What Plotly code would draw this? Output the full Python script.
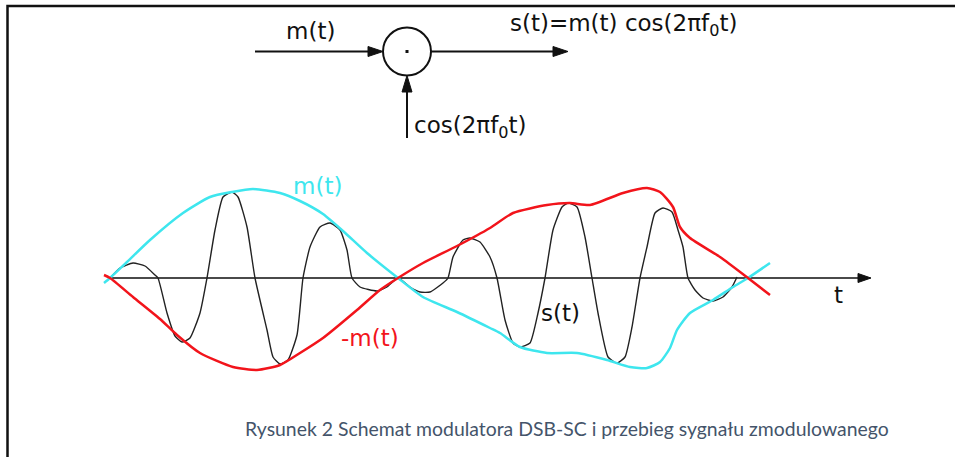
import plotly.graph_objects as go

# ---------------- waveform data (t in drawing units, amplitude positive up) ----------------
m_t = [104, 110, 127, 150, 183, 210, 232, 253, 280, 300, 323, 343, 367, 398, 423, 457, 490, 500,
       520, 547, 577, 607, 630, 647, 660, 670, 677, 690, 713, 733, 748, 770]
m_amp = [-5, 0, 16, 38, 65, 81, 86, 89, 85, 77, 64, 47, 25, 0, -19, -34, -50, -55,
         -69, -75, -75, -82, -89, -90, -84, -70, -52, -35, -22, -9, 0, 15]

neg_t = [104, 110, 133, 160, 177, 200, 233, 257, 280, 300, 323, 357, 380, 398, 423, 457, 490, 513,
         547, 570, 590, 623, 647, 660, 673, 680, 690, 720, 748, 770]
neg_amp = [3, 0, -19, -41, -57, -75, -89, -92, -87, -75, -60, -32, -12, 0, 15, 32, 50, 65,
           73, 75, 73, 85, 90, 86, 71, 51, 40, 21, 0, -17]

s_t = [110, 120, 133, 145, 155, 158, 167, 175, 182, 190, 200, 207, 215, 223, 232, 238, 247, 255,
       267, 273, 280, 288, 297, 303, 310, 320, 330, 340, 347, 352, 360, 377, 387, 398, 410, 420,
       430, 443, 448, 453, 463, 470, 480, 490, 497, 505, 513, 520, 530, 538, 545, 553, 562, 568,
       577, 585, 592, 598, 608, 617, 625, 632, 640, 647, 655, 663, 672, 678, 683, 688, 695, 703,
       713, 723, 732, 737]
s_amp = [0, 10, 15, 12, 3, 0, -35, -58, -64, -60, -35, 0, 48, 81, 86, 81, 51, 0,
         -52, -79, -86, -82, -57, 0, 31, 51, 55, 48, 28, 0, -9, -13, -9, 0, -9, -14,
         -14, -5, 0, 21, 38, 40, 36, 21, 0, -42, -65, -69, -65, -35, 0, 48, 71, 75,
         71, 41, 0, -35, -79, -85, -79, -49, 0, 31, 65, 70, 66, 48, 31, 0, -12, -20,
         -23, -19, -9, 1]

axis_t = [108, 862]
axis_amp = [0, 0]

# ---------------- diagram geometry (pixel-like layout units, y down) ----------------
border_x = [7.5, 7.5, 955]
border_y = [457, 6, 6]

in_arrow_x = [255, 370]
out_arrow_x = [431, 555]
arrow_y = 51.5
vert_arrow_y = [138, 90]
mult_cx, mult_cy, mult_r = 407, 51.5, 24

labels = ["m(t)", "s(t)=m(t) cos(2πf<sub>0</sub>t)", "cos(2πf<sub>0</sub>t)"]
label_x = [310, 623, 470]
label_y = [31, 25, 127]

wave_labels = ["m(t)", "-m(t)", "s(t)", "t"]
wave_label_x = [317, 370, 560, 838]
wave_label_amp = [92, -60, -35, -17]
wave_label_col = ["#3ee6ee", "#f2141b", "#111111", "#111111"]

caption = "Rysunek 2 Schemat modulatora DSB-SC i przebieg sygnału zmodulowanego"

CYAN = "#3ee6ee"
RED = "#f2141b"

fig = go.Figure()

# axis line
fig.add_trace(go.Scatter(x=axis_t, y=axis_amp, yaxis="y2", mode="lines",
                         line=dict(color="#4a4a4a", width=2), hoverinfo="skip"))
# modulated signal
fig.add_trace(go.Scatter(x=s_t, y=s_amp, yaxis="y2", mode="lines",
                         line=dict(color="#222222", width=1.4, shape="spline", smoothing=0.5),
                         hoverinfo="skip"))
# m(t)
fig.add_trace(go.Scatter(x=m_t, y=m_amp, yaxis="y2", mode="lines",
                         line=dict(color=CYAN, width=2.5, shape="spline", smoothing=0.6),
                         hoverinfo="skip"))
# -m(t)
fig.add_trace(go.Scatter(x=neg_t, y=neg_amp, yaxis="y2", mode="lines",
                         line=dict(color=RED, width=2.5, shape="spline", smoothing=0.6),
                         hoverinfo="skip"))

shapes = []
# border
shapes.append(dict(type="path", xref="x", yref="y",
                   path=f"M {border_x[0]},{border_y[0]} L {border_x[1]},{border_y[1]} L {border_x[2]},{border_y[2]}",
                   line=dict(color="#111111", width=2.5)))
# t-axis arrowhead
shapes.append(dict(type="path", xref="x", yref="y2",
                   path="M 871,0 L 858,4.5 L 858,-4.5 Z",
                   fillcolor="#111111", line=dict(color="#111111", width=1)))
# input arrow
shapes.append(dict(type="line", xref="x", yref="y", x0=in_arrow_x[0], x1=in_arrow_x[1],
                   y0=arrow_y, y1=arrow_y, line=dict(color="#111111", width=2)))
shapes.append(dict(type="path", xref="x", yref="y",
                   path=f"M {mult_cx - mult_r},{arrow_y} L {in_arrow_x[1] - 2},{arrow_y - 5} L {in_arrow_x[1] - 2},{arrow_y + 5} Z",
                   fillcolor="#111111", line=dict(color="#111111", width=1)))
# output arrow
shapes.append(dict(type="line", xref="x", yref="y", x0=out_arrow_x[0], x1=out_arrow_x[1],
                   y0=arrow_y, y1=arrow_y, line=dict(color="#111111", width=2)))
shapes.append(dict(type="path", xref="x", yref="y",
                   path=f"M 568,{arrow_y} L {out_arrow_x[1] - 2},{arrow_y - 5} L {out_arrow_x[1] - 2},{arrow_y + 5} Z",
                   fillcolor="#111111", line=dict(color="#111111", width=1)))
# vertical arrow
shapes.append(dict(type="line", xref="x", yref="y", x0=mult_cx, x1=mult_cx,
                   y0=vert_arrow_y[0], y1=vert_arrow_y[1], line=dict(color="#111111", width=2)))
shapes.append(dict(type="path", xref="x", yref="y",
                   path=f"M {mult_cx},{mult_cy + mult_r} L {mult_cx - 5},{vert_arrow_y[1] + 2} L {mult_cx + 5},{vert_arrow_y[1] + 2} Z",
                   fillcolor="#111111", line=dict(color="#111111", width=1)))
# multiplier circle and dot
shapes.append(dict(type="circle", xref="x", yref="y",
                   x0=mult_cx - mult_r, x1=mult_cx + mult_r, y0=mult_cy - mult_r, y1=mult_cy + mult_r,
                   line=dict(color="#111111", width=2)))
shapes.append(dict(type="rect", xref="x", yref="y",
                   x0=mult_cx - 1.5, x1=mult_cx + 1.5, y0=mult_cy - 1.5, y1=mult_cy + 1.5,
                   fillcolor="#111111", line=dict(width=0)))

annotations = []
for txt, x, y in zip(labels, label_x, label_y):
    annotations.append(dict(text=txt, x=x, y=y, xref="x", yref="y", showarrow=False,
                            xanchor="center", yanchor="middle",
                            font=dict(family="DejaVu Sans", size=23, color="#111111")))
for txt, x, a, c in zip(wave_labels, wave_label_x, wave_label_amp, wave_label_col):
    annotations.append(dict(text=txt, x=x, y=a, xref="x", yref="y2", showarrow=False,
                            xanchor="center", yanchor="middle",
                            font=dict(family="DejaVu Sans", size=23, color=c)))
annotations.append(dict(text=caption, x=567, y=428, xref="x", yref="y", showarrow=False,
                        xanchor="center", yanchor="middle",
                        font=dict(family="Lato", size=19.4, color="#44546a")))

fig.update_layout(
    width=955, height=457,
    margin=dict(l=0, r=0, t=0, b=0),
    paper_bgcolor="white", plot_bgcolor="white",
    showlegend=False,
    xaxis=dict(range=[0, 955], visible=False, fixedrange=True),
    yaxis=dict(range=[457, 0], visible=False, fixedrange=True),
    yaxis2=dict(range=[-179, 278], visible=False, overlaying="y", fixedrange=True),
    shapes=shapes,
    annotations=annotations,
)

fig.write_html("out.html", config={"displayModeBar": False},
               post_script="document.body.style.margin='0';document.body.style.overflow='hidden';")
